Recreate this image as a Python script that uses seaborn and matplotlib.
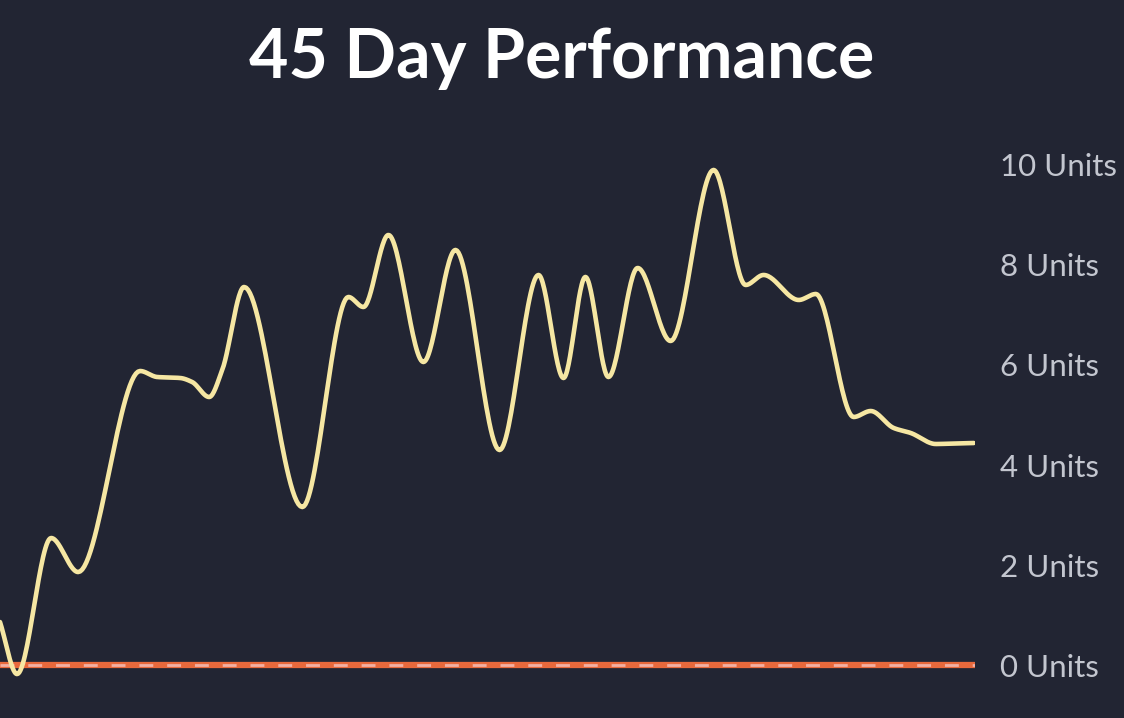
import numpy as np
import pandas as pd
import matplotlib.pyplot as plt
import seaborn as sns

# Day positions (fractional) and performance values
days = [0.0, 0.77, 2.31, 3.53, 6.33, 7.10, 8.14, 8.68, 9.45,
        10.04, 11.03, 13.66, 15.74, 16.42, 17.55,
        19.13, 20.58, 22.57, 24.33, 25.46, 26.45, 27.49, 28.81, 30.30, 32.24,
        33.69, 34.50, 36.09, 36.86, 38.57, 39.34, 40.38, 41.15,
        42.28, 43.10, 44.0]
units = [0.86, -0.18, 2.54, 1.86, 5.88, 5.76, 5.74, 5.66, 5.36,
         5.9, 7.56, 3.16, 7.36, 7.16, 8.6,
         6.06, 8.3, 4.3, 7.8, 5.74, 7.76, 5.76, 7.94, 6.48, 9.9,
         7.6, 7.8, 7.3, 7.42, 4.96, 5.08, 4.74, 4.64,
         4.42, 4.43, 4.44]
tick_values = [0, 2, 4, 6, 8, 10]
tick_labels = [f"{v} Units" for v in tick_values]

BG = "#222533"
LINE = "#f6e7a3"


def smooth_curve(x, y, per_seg=30):
    """PCHIP-style cubic, only used to draw the line smoothly."""
    x = np.asarray(x, float)
    y = np.asarray(y, float)
    h = np.diff(x)
    d = np.diff(y) / h
    m = np.zeros_like(y)
    m[0], m[-1] = d[0], d[-1]
    for i in range(1, len(x) - 1):
        if d[i - 1] * d[i] > 0:
            w1 = 2 * h[i] + h[i - 1]
            w2 = h[i] + 2 * h[i - 1]
            m[i] = (w1 + w2) / (w1 / d[i - 1] + w2 / d[i])
    xs, ys = [], []
    for i in range(len(x) - 1):
        t = np.linspace(0, 1, per_seg, endpoint=False)
        h00 = 2 * t**3 - 3 * t**2 + 1
        h10 = t**3 - 2 * t**2 + t
        h01 = -2 * t**3 + 3 * t**2
        h11 = t**3 - t**2
        xs.append(x[i] + t * h[i])
        ys.append(h00 * y[i] + h10 * h[i] * m[i] + h01 * y[i + 1] + h11 * h[i] * m[i + 1])
    xs.append([x[-1]])
    ys.append([y[-1]])
    return np.concatenate(xs), np.concatenate(ys)


sx, sy = smooth_curve(days, units)
curve = pd.DataFrame({"day": sx, "units": sy})

sns.set_theme(style="dark")
plt.rcParams["font.family"] = ["Lato", "DejaVu Sans"]

fig = plt.figure(figsize=(11.24, 7.18), dpi=100, facecolor=BG)
ax = fig.add_axes([0, 0.025, 0.8674, 0.794])
ax.set_facecolor(BG)

# zero baseline: orange with light dashes on top
ax.axhline(0, color="#e8693c", linewidth=4.5, zorder=2)
ax.axhline(0, color="#f2b0a4", linewidth=2, dashes=(5, 5), zorder=3)

sns.lineplot(data=curve, x="day", y="units", sort=False, estimator=None,
             color=LINE, linewidth=3.3, ax=ax, zorder=4)

ax.set_xlim(0, 44.05)
ax.set_ylim(-0.7, 10.7)
ax.set_xticks([])
ax.yaxis.tick_right()
ax.set_yticks(tick_values)
ax.set_yticklabels(tick_labels)
ax.tick_params(axis="y", length=0, pad=18, labelsize=22.5, labelcolor="#c3c6cf")
ax.set_xlabel("")
ax.set_ylabel("")
ax.grid(False)
for s in ax.spines.values():
    s.set_visible(False)

fig.text(0.4995, 0.918, "45 Day Performance", ha="center", va="center",
         fontsize=49, fontweight="bold", color="white")

fig.savefig("out.png", dpi=100, facecolor=BG)
plt.close(fig)
